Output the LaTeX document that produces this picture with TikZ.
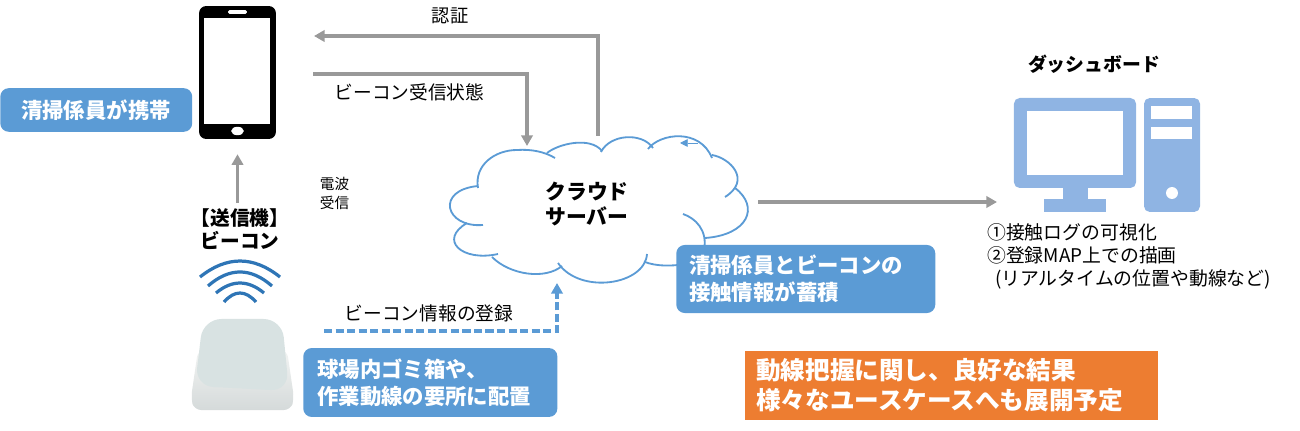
\documentclass[tikz,border=0pt]{standalone}
\usepackage{fontspec}
\setmainfont{Noto Sans CJK JP}
\usetikzlibrary{positioning, arrows.meta, calc, shapes.geometric}
\definecolor{boxBlue}{HTML}{5B9BD5}
\definecolor{waveBlue}{HTML}{2E75B6}
\definecolor{pcBlue}{HTML}{8FB4E3}
\definecolor{lineGrey}{HTML}{999999}
\definecolor{boxOrange}{HTML}{ED7D31}
\definecolor{keyFace}{HTML}{D8E2E2}
\definecolor{keyEdgeA}{HTML}{F2F4F3}
\definecolor{keyEdgeB}{HTML}{D5DADA}
\tikzset{
	labelBox/.style={fill=boxBlue, rounded corners=6pt, text=white, align=left, anchor=west, inner xsep=0pt, inner ysep=0pt, font=\bfseries\fontsize{15.2}{19}\selectfont},
	resultBox/.style={fill=boxOrange, text=white, align=left, anchor=west, inner xsep=0pt, inner ysep=0pt, font=\bfseries\fontsize{17.5}{21.5}\selectfont},
	arrowLabel/.style={inner sep=0pt, font=\fontsize{13.3}{17}\selectfont},
	headLabel/.style={inner sep=0pt, align=center, font=\bfseries\fontsize{14}{16.5}\selectfont},
	greyArrow/.style={draw=lineGrey, line width=2.5pt, -{Triangle[length=7.5pt,width=8pt]}},
	blueDash/.style={draw=boxBlue, line width=2.5pt, dash pattern=on 5.8pt off 2.4pt, -{Triangle[length=7.5pt,width=8pt]}},
	cloudLine/.style={draw=boxBlue, line width=1.3pt},
	waveLine/.style={draw=waveBlue, line width=2.3pt},
	pcPart/.style={fill=pcBlue, inner sep=0pt},
	pcHole/.style={fill=white, inner sep=0pt},
}
\begin{document}
\begin{tikzpicture}[x=0.025cm, y=-0.025cm, node distance=6pt]
	\useasboundingbox (0,0) rectangle (1300,431);
	
	% telephone
	\node[fill=black, rounded corners=5pt, inner sep=0pt, minimum width=54.6pt, minimum height=94.5pt] (phone) at (237.5,72.5) {};
	\node[fill=white, inner sep=0pt, minimum width=47pt, minimum height=75.4pt] (phoneScreen) at (237,71) {};
	\node[fill=white, rounded corners=1pt, inner sep=0pt, minimum width=13.5pt, minimum height=2.6pt] (phoneSpeaker) at (237.5,12) {};
	\node[fill=white, ellipse, inner sep=0pt, minimum width=9pt, minimum height=6pt] (phoneButton) at (237.5,131) {};
	\node[labelBox, text width=106.7pt, inner xsep=14.9pt, minimum height=31pt] (carryBox) at (0,110) {清掃係員が携帯};
	
	% beacon
	\node[headLabel] (beaconTag) at (240,229) {【送信機】\\ビーコン};
	\foreach \wave/\yEnd/\yCtl in {40/277/255.7, 32/286/267.3, 24/293/279.7, 16/302/290}
		\draw[waveLine] ({240-\wave},\yEnd) .. controls ({240-\wave/3},\yCtl) and ({240+\wave/3},\yCtl) .. ({240+\wave},\yEnd);
	\draw[draw=none, top color=keyEdgeA, bottom color=keyEdgeB, rounded corners=5pt] (198,350) -- (191,398) -- (194,410) -- (291,410) -- (294,398) -- (287,350) -- cycle;
	\fill[color=keyFace, rounded corners=13pt] (203,319) -- (282,319) -- (289,391) -- (195,386) -- cycle;
	\node[labelBox, text width=160.7pt, inner xsep=10pt, minimum height=49pt] (placeBox) at (303,382.5) {球場内ゴミ箱や、\\作業動線の要所に配置};
	
	% cloud, lobe after lobe
	\draw[cloudLine] (478,188) .. controls (474,165) and (495,150) .. (517,150) .. controls (532,149) and (545,152) .. (555,158);
	\draw[cloudLine] (547,153) .. controls (558,144) and (590,136) .. (602,151);
	\draw[cloudLine] (601,152) .. controls (610,134) and (642,132) .. (653,148);
	\draw[cloudLine] (648,149) .. controls (660,133) and (700,128) .. (712,158);
	\draw[cloudLine] (712,155) .. controls (730,158) and (752,180) .. (725,197);
	\draw[cloudLine] (735,188) .. controls (760,207) and (748,235) .. (705,238);
	\draw[cloudLine] (683,214) .. controls (695,218) and (708,230) .. (704,250);
	\draw[cloudLine] (690,263) .. controls (672,267) and (655,266) .. (645,262);
	\draw[cloudLine] (647,254) .. controls (645,285) and (580,295) .. (558,263);
	\draw[cloudLine] (562,266) .. controls (545,280) and (510,275) .. (492,257);
	\draw[cloudLine] (498,254) .. controls (462,262) and (438,240) .. (467,223);
	\draw[cloudLine] (483,225) .. controls (445,228) and (435,190) .. (478,186);
	\coordinate (cloudMarkStart) at (698,143);
	\coordinate (cloudMarkEnd) at (680,143);
	\draw[draw=boxBlue, line width=0.5pt, -{Triangle[length=5.5pt,width=5.5pt]}] (cloudMarkStart) -- (cloudMarkEnd);
	\node[headLabel, font=\bfseries\fontsize{14.8}{17.8}\selectfont] (cloudText) at (587,204.5) {クラウド\\サーバー};
	\node[labelBox, text width=165.8pt, inner xsep=9.2pt, minimum height=48.4pt] (contactBox) at (676,279) {清掃係員とビーコンの\\接触情報が蓄積};
	
	% dashboard
	\node[inner sep=0pt, font=\bfseries\fontsize{13.4}{15}\selectfont] (dashTitle) at (1094,64) {ダッシュボード};
	\node[pcPart, rounded corners=4pt, minimum width=86.8pt, minimum height=64pt] (monitor) at (1075,143) {};
	\node[pcHole, minimum width=68.3pt, minimum height=45.5pt] (monitorScreen) at (1075,143) {};
	\node[pcPart, minimum width=17.8pt, minimum height=9pt] (monitorNeck) at (1075.5,194) {};
	\node[pcPart, minimum width=44pt, minimum height=9.5pt] (monitorBase) at (1075,205.5) {};
	\node[pcPart, rounded corners=4pt, minimum width=39.8pt, minimum height=81pt] (tower) at (1172,155) {};
	\node[pcHole, minimum width=29.2pt, minimum height=9.2pt] (towerSlotA) at (1171.5,112.5) {};
	\node[pcHole, minimum width=29.2pt, minimum height=8.6pt] (towerSlotB) at (1171.5,133) {};
	\node[pcHole, circle, minimum size=8.5pt] (towerHole) at (1172,193) {};
	\node[inner sep=0pt, anchor=west, font=\fontsize{13.4}{16.4}\selectfont, align=left] (dashNotes) at (987,256) {①接触ログの可視化\\②登録MAP上での描画\\\hspace*{5.5pt}(リアルタイムの位置や動線など)};
	
	\node[resultBox, text width=278pt, inner xsep=7.8pt, minimum height=49pt] (resultNote) at (745,385.5) {動線把握に関し、良好な結果\\様々なユースケースへも展開予定};
	
	% connectors and their labels
	\coordinate (authStart) at (598,136);
	\coordinate (authCorner) at (598,36);
	\coordinate (authEnd) at (314,36);
	\coordinate (stateStart) at (313,74);
	\coordinate (stateCorner) at (527,74);
	\coordinate (stateEnd) at (527,146);
	\coordinate (dashStart) at (324,331);
	\coordinate (dashCorner) at (557,331);
	\coordinate (dashEnd) at (557,283);
	\coordinate (cloudOut) at (758,202);
	\coordinate (dashIn) at (997,202);
	\path[greyArrow] (authStart) -- (authCorner) -- (authEnd);
	\path[greyArrow] (stateStart) -- (stateCorner) -- (stateEnd);
	\path[greyArrow] (cloudOut) -- (dashIn);
	\path[greyArrow, shorten >=10.7pt, shorten <=3.5pt] (beaconTag.north -| phone.south) -- (phone.south);
	\path[blueDash] (dashStart) -- (dashCorner) -- (dashEnd);
	
	\node[arrowLabel, font=\fontsize{13}{16}\selectfont] (authText) at (450,16) {認証};
	\node[arrowLabel] (stateText) at (409.5,92) {ビーコン受信状態};
	\node[arrowLabel] (dashText) at (429,313) {ビーコン情報の登録};
	\node[inner sep=0pt, align=left, font=\fontsize{10.4}{13.3}\selectfont] (radioText) at (334.5,193.5) {電波\\受信};
\end{tikzpicture}
\end{document}
